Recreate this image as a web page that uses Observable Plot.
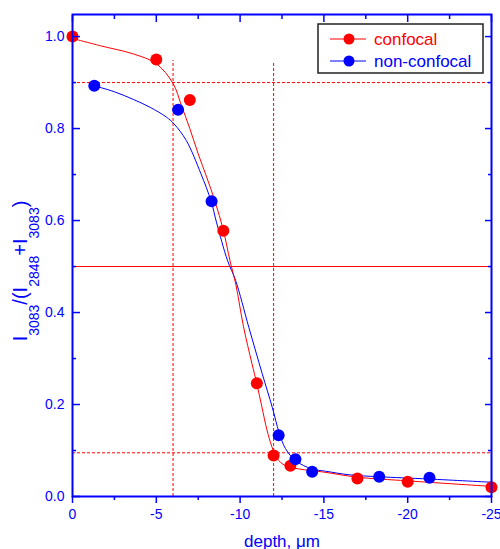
<!DOCTYPE html>
<html><head><meta charset="utf-8">
<script src="https://cdn.jsdelivr.net/npm/d3@7"></script>
<script src="https://cdn.jsdelivr.net/npm/@observablehq/plot@0.6"></script>
<style>body{margin:0;background:#fff}#chart svg{display:block}</style>
</head><body><div id="chart"></div>
<script>
// measured points
const confocalDepth = [0, -5, -7, -9, -11, -12, -13, -17, -20, -25];
const confocalRatio = [1.0, 0.950, 0.862, 0.578, 0.246, 0.089, 0.067, 0.039, 0.032, 0.020];
const nonconfDepth = [-1.3, -6.3, -8.3, -12.3, -13.3, -14.3, -18.3, -21.3];
const nonconfRatio = [0.893, 0.841, 0.642, 0.133, 0.081, 0.054, 0.043, 0.041];
// fitted curves
const confocalFitDepth = [0, -1.67, -3.65, -5, -6, -6.5, -7, -7.5, -8, -8.5, -9, -9.4, -9.75, -10.2, -10.7, -11, -11.3, -11.6, -11.9, -12.2, -12.7, -13.5, -15, -17, -20, -25];
const confocalFitRatio = [0.996, 0.980, 0.962, 0.941, 0.898, 0.850, 0.800, 0.745, 0.695, 0.642, 0.579, 0.512, 0.460, 0.370, 0.290, 0.245, 0.195, 0.145, 0.108, 0.083, 0.067, 0.060, 0.053, 0.042, 0.034, 0.022];
const nonconfFitDepth = [-1.3, -2.5, -3.65, -4.64, -5.6, -6.06, -6.79, -7.66, -8.27, -8.6, -9.25, -9.73, -10.52, -11.32, -11.92, -12.32, -12.71, -13.31, -14.27, -15.1, -16.55, -18.27, -21.27, -25];
const nonconfFitRatio = [0.893, 0.880, 0.863, 0.846, 0.825, 0.810, 0.774, 0.702, 0.642, 0.595, 0.513, 0.470, 0.368, 0.267, 0.194, 0.140, 0.104, 0.078, 0.060, 0.055, 0.047, 0.043, 0.038, 0.031];
// reference lines
const halfLevel = [0.5];
const levelLines = [0.9, 0.095];
const depthMarks = [-6, -12];
const depthMarkTop = [0.948, 0.943];
// ticks
const xMajor = [0, -5, -10, -15, -20, -25];
const xMinor = [-2.5, -7.5, -12.5, -17.5, -22.5];
const yMajor = [0, 0.2, 0.4, 0.6, 0.8, 1.0];
const yMinor = [0.1, 0.3, 0.5, 0.7, 0.9];
const legendLabels = ["confocal", "non-confocal"];
const xLabel = "depth, \u03BCm";

const RED = "#ff0000", BLUE = "#0000ff";
const zip = (xs, ys) => xs.map((x, i) => ({x, y: ys[i]}));
const conf = zip(confocalDepth, confocalRatio);
const nonc = zip(nonconfDepth, nonconfRatio);
const confFit = zip(confocalFitDepth, confocalFitRatio);
const noncFit = zip(nonconfFitDepth, nonconfFitRatio);
const vLines = depthMarks.map((x, i) => ({x, top: depthMarkTop[i]}));

const tickAx = (fn, data, o) => fn(data, {stroke: BLUE, strokeWidth: 1.5, fill: "none", ...o});

const chart = Plot.plot({
  width: 500, height: 549,
  marginLeft: 72, marginRight: 9, marginTop: 14, marginBottom: 53,
  style: {fontFamily: "'Liberation Sans', Arial, sans-serif", fontSize: "14px", background: "#fff", color: BLUE, overflow: "visible"},
  x: {domain: [0, -25]},
  y: {domain: [0, 1.048]},
  marks: [
    Plot.ruleY(halfLevel, {stroke: RED, strokeWidth: 1}),
    Plot.ruleY(levelLines, {stroke: RED, strokeWidth: 1, strokeDasharray: "3,2"}),
    Plot.ruleX(vLines, {x: "x", y1: 0, y2: "top", stroke: RED, strokeWidth: 1, strokeDasharray: "3,2"}),
    Plot.line(noncFit, {x: "x", y: "y", stroke: BLUE, strokeWidth: 1, curve: "catmull-rom"}),
    Plot.line(confFit, {x: "x", y: "y", stroke: RED, strokeWidth: 1, curve: "catmull-rom"}),
    Plot.dot(conf, {x: "x", y: "y", r: 6, fill: RED}),
    Plot.dot(nonc, {x: "x", y: "y", r: 6, fill: BLUE}),
    Plot.frame({stroke: BLUE, strokeWidth: 2}),
    tickAx(Plot.axisX, xMajor, {anchor: "bottom", tickSize: 7}),
    tickAx(Plot.axisX, xMinor, {anchor: "bottom", tickSize: 4}),
    tickAx(Plot.axisX, xMajor, {anchor: "top", tickSize: 7, insetTop: 7}),
    tickAx(Plot.axisX, xMinor, {anchor: "top", tickSize: 4, insetTop: 4}),
    tickAx(Plot.axisY, yMajor, {anchor: "left", tickSize: 8, insetLeft: 8}),
    tickAx(Plot.axisY, yMinor, {anchor: "left", tickSize: 4, insetLeft: 4}),
    tickAx(Plot.axisY, yMajor, {anchor: "right", tickSize: 7, insetRight: 7}),
    tickAx(Plot.axisY, yMinor, {anchor: "right", tickSize: 4, insetRight: 4}),
    Plot.axisX(xMajor, {anchor: "bottom", tickSize: 0, tickPadding: 13, tickFormat: d => String(d), fill: BLUE, fontSize: 14, label: null}),
    Plot.axisY(yMajor, {anchor: "left", tickSize: 0, tickPadding: 8, tickFormat: d => d.toFixed(1), fill: BLUE, fontSize: 14, label: null}),
    Plot.text([xLabel], {text: d => d, frameAnchor: "bottom", dy: 50, lineAnchor: "bottom", fill: BLUE, fontSize: 17})
  ]
});
document.getElementById("chart").appendChild(chart);

const svg = d3.select(chart);
// y label with subscripts
const yParts = [["I", false], ["3083", true], ["/(I", false], ["2848", true], ["+I", false], ["3083", true], [")", false]];
const yl = svg.append("text")
  .attr("transform", "translate(27,271) rotate(-90)")
  .attr("text-anchor", "middle")
  .attr("fill", BLUE)
  .attr("font-size", 20);
let shifted = false;
for (const [t, sub] of yParts) {
  const ts = yl.append("tspan").text(t).attr("font-size", sub ? 14 : 20);
  if (sub && !shifted) { ts.attr("dy", 12); shifted = true; }
  else if (!sub && shifted) { ts.attr("dy", -12); shifted = false; }
}
// legend
const lg = svg.append("g");
lg.append("rect").attr("x", 318).attr("y", 24).attr("width", 165).attr("height", 49)
  .attr("fill", "#fff").attr("stroke", "#222").attr("stroke-width", 1.5);
const legendColors = [RED, BLUE];
legendLabels.forEach((lab, i) => {
  const cy = 39 + i * 22;
  lg.append("line").attr("x1", 330).attr("x2", 366).attr("y1", cy).attr("y2", cy).attr("stroke", legendColors[i]).attr("stroke-width", 1);
  lg.append("circle").attr("cx", 349).attr("cy", cy).attr("r", 5.5).attr("fill", legendColors[i]);
  lg.append("text").attr("x", 374).attr("y", cy + 6).attr("text-anchor", "start").attr("font-size", 17).attr("fill", legendColors[i]).text(lab);
});
</script>
</body></html>
